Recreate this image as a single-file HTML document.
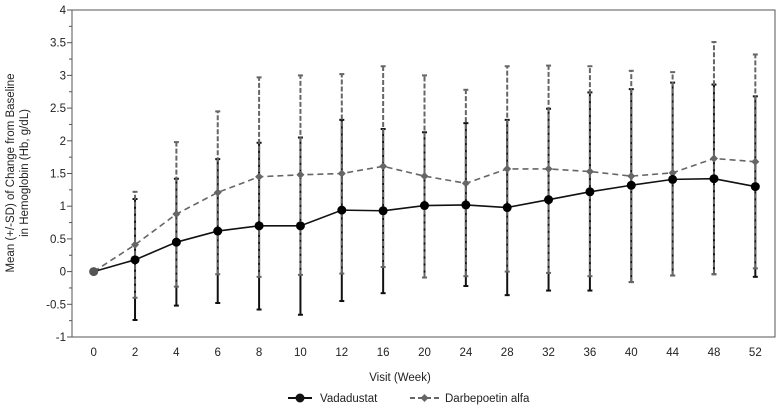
<!DOCTYPE html>
<html><head><meta charset="utf-8"><style>
html,body{margin:0;padding:0;background:#fff;}
svg{display:block;font-family:"Liberation Sans",Arial,sans-serif;}
</style></head><body>
<svg id="chart" width="781" height="409" viewBox="0 0 781 409">
<rect x="72" y="10" width="703" height="327" fill="#fff" stroke="#555" stroke-width="1"/>
<g id="yaxis"></g>
<g id="xaxis"></g>
<g id="series"></g>
<text transform="translate(14,173) rotate(-90)" text-anchor="middle" font-size="11.5" fill="#222"><tspan x="0" dy="0">Mean (+/-SD) of Change from Baseline</tspan><tspan x="0" dy="14">in Hemoglobin (Hb, g/dL)</tspan></text>
<text x="400" y="381" text-anchor="middle" font-size="11.5" fill="#222">Visit (Week)</text>
<g>
<g>
<line x1="288" y1="398" x2="312" y2="398" stroke="#111" stroke-width="2"/>
<circle cx="300" cy="398" r="4.5" fill="#111"/>
<text x="320" y="402" font-size="11.5" fill="#222">Vadadustat</text>
</g>
<g>
<line x1="410" y1="398" x2="439" y2="398" stroke="#666" stroke-width="2" stroke-dasharray="5,3"/>
<path d="M424.5 394 L428.5 398 L424.5 402 L420.5 398 Z" fill="#666"/>
<text x="445" y="402" font-size="11.5" fill="#222">Darbepoetin alfa</text>
</g>
</g>
</svg>
<script>
const categories = ["0","2","4","6","8","10","12","16","20","24","28","32","36","40","44","48","52"];
const vadMean = [0,0.18,0.45,0.62,0.70,0.70,0.94,0.93,1.01,1.02,0.98,1.10,1.22,1.32,1.41,1.42,1.30];
const vadUpper = [0,1.11,1.42,1.72,1.97,2.05,2.32,2.18,2.13,2.27,2.32,2.49,2.74,2.79,2.89,2.86,2.68];
const vadLower = [0,-0.74,-0.52,-0.48,-0.58,-0.66,-0.45,-0.33,-0.09,-0.22,-0.36,-0.29,-0.29,-0.16,-0.06,-0.04,-0.08];
const darMean = [0,0.41,0.88,1.21,1.45,1.48,1.50,1.61,1.46,1.35,1.57,1.57,1.53,1.46,1.51,1.73,1.68];
const darUpper = [0,1.22,1.98,2.45,2.97,3.00,3.02,3.14,3.00,2.78,3.14,3.15,3.14,3.07,3.05,3.51,3.32];
const darLower = [0,-0.40,-0.23,-0.04,-0.08,-0.05,-0.03,0.07,-0.09,-0.07,0.00,-0.02,-0.07,-0.16,-0.06,-0.04,0.05];
const yTicks = [-1,-0.5,0,0.5,1,1.5,2,2.5,3,3.5,4];

const NS = "http://www.w3.org/2000/svg";
const X0 = 72, X1 = 775, Y0 = 337, Y1 = 10, YMIN = -1, YMAX = 4;
const band = (X1 - X0) / categories.length;
function xs(i){ return X0 + band * (i + 0.5) + 1; }
function ys(v){ return Y0 - (v - YMIN) / (YMAX - YMIN) * (Y0 - Y1); }
function mk(tag, attrs, parent){
  const e = document.createElementNS(NS, tag);
  for (const k in attrs) e.setAttribute(k, attrs[k]);
  parent.appendChild(e); return e;
}
const yg = document.getElementById('yaxis');
for (let v = YMIN; v <= YMAX + 1e-9; v += 0.25) {
  const major = Math.abs(v*2 - Math.round(v*2)) < 1e-9;
  const t = mk('line', {x1: X0 - (major ? 5 : 3), x2: X0, y1: ys(v), y2: ys(v), stroke: '#555', 'stroke-width': 1}, yg);
  
  
}
yTicks.forEach(v => {
  const t = mk('text', {x: 66, y: ys(v) + 4, 'text-anchor': 'end', 'font-size': 11.5, fill: '#222'}, yg);
  t.textContent = String(v);
  
  
});
const xg = document.getElementById('xaxis');
categories.forEach((c, i) => {
  const t = mk('text', {x: xs(i), y: 356, 'text-anchor': 'middle', 'font-size': 11.5, fill: '#222'}, xg);
  t.textContent = c;
  
  
});
const sg = document.getElementById('series');
function errBars(lo, hi, color, dash, w, name){
  categories.forEach((c, i) => {
    if (i === 0) return;
    const x = xs(i);
    const l = mk('line', {x1: x, x2: x, y1: ys(lo[i]), y2: ys(hi[i]), stroke: color, 'stroke-width': w}, sg);
    if (dash) l.setAttribute('stroke-dasharray', dash);
    
    
    [lo[i], hi[i]].forEach(v => {
      const cap = mk('line', {x1: x - 2.5, x2: x + 2.5, y1: ys(v), y2: ys(v), stroke: color, 'stroke-width': 2}, sg);
      
      
    });
  });
}
errBars(vadLower, vadUpper, '#111', null, 2, 'vadadustat');
errBars(darLower, darUpper, '#666', '5,2', 2, 'darbepoetin');
const dpts = darMean.map((v, i) => xs(i) + ',' + ys(v)).join(' ');
const dl = mk('polyline', {points: dpts, fill: 'none', stroke: '#666', 'stroke-width': 1.6, 'stroke-dasharray': '6,4'}, sg);


const vpts = vadMean.map((v, i) => xs(i) + ',' + ys(v)).join(' ');
const vl = mk('polyline', {points: vpts, fill: 'none', stroke: '#111', 'stroke-width': 1.6}, sg);


darMean.forEach((v, i) => {
  const x = xs(i), y = ys(v);
  const p = mk('path', {d: `M${x} ${y-4} L${x+4} ${y} L${x} ${y+4} L${x-4} ${y} Z`, fill: '#666'}, sg);
  
  
});
vadMean.forEach((v, i) => {
  const p = mk('circle', {cx: xs(i), cy: ys(v), r: 4.5, fill: i === 0 ? '#555' : '#000'}, sg);
  
  
});
</script>
</body></html>
